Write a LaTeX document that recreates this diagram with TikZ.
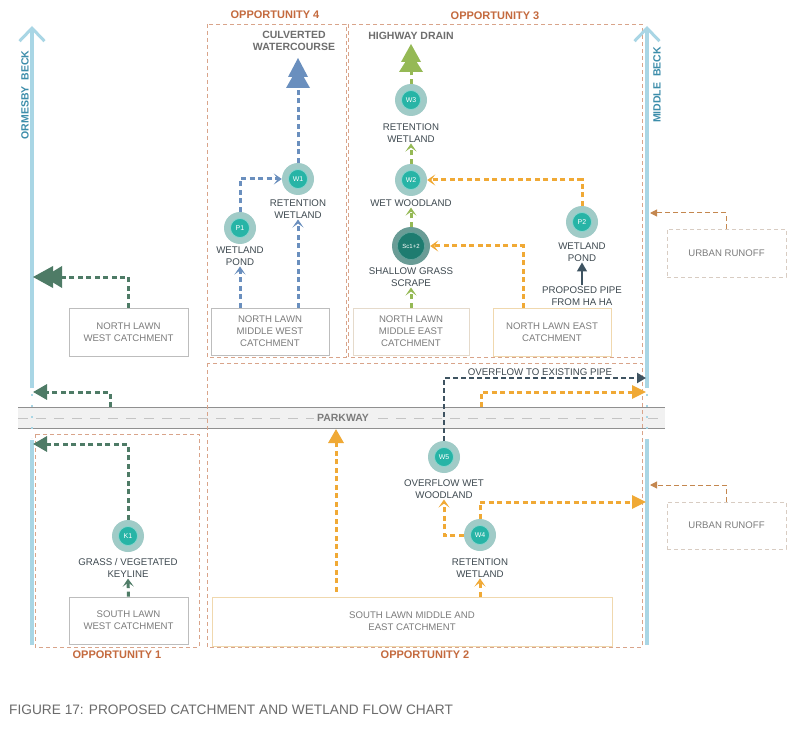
\documentclass[tikz,border=0pt]{standalone}
\usepackage{fontspec}
\setmainfont{Liberation Sans}
\usetikzlibrary{arrows.meta}
\definecolor{beckc}{HTML}{A9D6E5}
\definecolor{becktxt}{HTML}{3C8DAA}
\definecolor{oppc}{HTML}{C46A3E}
\definecolor{opplc}{HTML}{D9A48A}
\definecolor{dgreen}{HTML}{4E7B66}
\definecolor{wblue}{HTML}{6A8FBE}
\definecolor{lgreen}{HTML}{95B955}
\definecolor{orng}{HTML}{F0A935}
\definecolor{slate}{HTML}{3E5361}
\definecolor{brn}{HTML}{C4874F}
\definecolor{ringc}{HTML}{A0CBC7}
\definecolor{corec}{HTML}{27B4A6}
\definecolor{scring}{HTML}{6A9C96}
\definecolor{sccore}{HTML}{1E7C70}
\definecolor{lblc}{HTML}{3F4A51}
\definecolor{boxtxt}{HTML}{7C7C7C}
\definecolor{gboxc}{HTML}{BDBDBD}
\definecolor{oboxc}{HTML}{F0D8AE}
\definecolor{eboxc}{HTML}{E5DACB}
\definecolor{uboxc}{HTML}{D8CCC2}
\definecolor{headc}{HTML}{6E6E6E}
\definecolor{pkfill}{HTML}{F1F1F1}
\definecolor{pkline}{HTML}{909090}
\definecolor{pkdash}{HTML}{C4C4C4}
\definecolor{capc}{HTML}{6B6B6B}
\begin{document}
\begin{tikzpicture}[x=1pt,y=-1pt,
  lbl/.style={font=\fontsize{9.7}{11.8}\selectfont, text=lblc, align=center, inner sep=1pt},
  cbox/.style={draw=gboxc, line width=0.7pt, font=\fontsize{9.6}{12}\selectfont, text=boxtxt, align=center, inner sep=0pt},
  obox/.style={cbox, draw=oboxc},
  ebox/.style={cbox, draw=eboxc},
  ubox/.style={cbox, draw=uboxc, dash pattern=on 4pt off 3pt},
  opp/.style={draw=opplc, line width=0.8pt, dash pattern=on 4pt off 3pt},
  opptxt/.style={font=\bfseries\fontsize{11}{13}\selectfont, text=oppc, inner sep=0pt},
  headtxt/.style={font=\bfseries\fontsize{10.5}{12}\selectfont, text=headc, align=center, inner sep=0pt},
  becktext/.style={font=\bfseries\fontsize{10.5}{12}\selectfont, text=becktxt, rotate=90, inner sep=0pt},
  beck/.style={draw=beckc, line width=3.5pt},
  flow/.style={line width=3pt, dash pattern=on 5pt off 3.5pt},
  thinflow/.style={line width=2.2pt, dash pattern=on 5pt off 3pt},
  urbflow/.style={draw=brn, line width=1pt, dash pattern=on 5pt off 3pt, -{Triangle[length=7pt,width=7pt]}},
  chev/.style={-{Stealth[length=8pt,width=11pt,inset=4pt]}},
  tri/.style={-{Triangle[length=14pt,width=15pt]}},
  bigtri/.style={-{Triangle[length=14pt,width=13pt]}},
  smtri/.style={-{Triangle[length=9pt,width=10pt]}},
  ring/.style={circle, fill=ringc, minimum size=32pt, inner sep=0pt},
  core/.style={circle, fill=corec, draw=corec!55!white, line width=0.7pt, minimum size=19pt, inner sep=0pt, text=white, font=\fontsize{7}{8}\selectfont},
]
\fill[white] (0,0) rectangle (790,730);
\useasboundingbox (0,0) rectangle (790,730);

% parkway
\fill[pkfill] (18,407) rectangle (665,428);
\draw[pkline, line width=0.8pt] (18,407) -- (665,407) (18,428) -- (665,428);
\draw[pkdash, line width=1pt, dash pattern=on 10pt off 8pt] (18,418) -- (665,418);
\node[font=\bfseries\fontsize{10.5}{12}\selectfont, text=headc!90!white, fill=pkfill, inner sep=3pt] (pk) at (343,418) {PARKWAY};

% opportunity boxes
\draw[opp] (207,24) rectangle (346,357);
\draw[opp] (348,24) rectangle (642,357);
\draw[opp] (207,363) rectangle (642,647);
\draw[opp] (35,434) rectangle (199,647);
\node[opptxt] (o4) at (275,15) {OPPORTUNITY 4};
\node[opptxt] (o3) at (495,16) {OPPORTUNITY 3};
\node[opptxt] (o2) at (425,655) {OPPORTUNITY 2};
\node[opptxt] (o1) at (117,655) {OPPORTUNITY 1};

% becks
\draw[beck, -{Straight Barb[length=13pt,width=25pt,line width=3pt]}] (32,388) -- (32,26);
\draw[beck] (32,440) -- (32,645);
\draw[beckc, line width=2pt, dash pattern=on 2pt off 9pt] (32,394) -- (32,438);
\draw[beck, -{Straight Barb[length=13pt,width=25pt,line width=3pt]}] (647,388) -- (647,26);
\draw[beck] (647,439) -- (647,645);
\draw[beckc, line width=2pt, dash pattern=on 2pt off 9pt] (647,394) -- (647,437);
\node[becktext] (obl) at (25,95) {ORMESBY~~BECK};
\node[becktext] (mbl) at (657,85) {MIDDLE~~BECK};

% catchment boxes
\node[cbox, minimum width=119pt, minimum height=48pt] (NLW) at (128.5,332) {NORTH LAWN\\WEST CATCHMENT};
\node[cbox, minimum width=118pt, minimum height=47pt] (NLMW) at (270,331.5) {NORTH LAWN\\MIDDLE WEST\\CATCHMENT};
\node[ebox, minimum width=116pt, minimum height=47pt] (NLME) at (411,331.5) {NORTH LAWN\\MIDDLE EAST\\CATCHMENT};
\node[obox, minimum width=118pt, minimum height=48pt] (NLE) at (552,332) {NORTH LAWN EAST\\CATCHMENT};
\node[cbox, minimum width=119pt, minimum height=47pt] (SLW) at (128.5,620.5) {SOUTH LAWN\\WEST CATCHMENT};
\node[obox, minimum width=400pt, minimum height=49pt] (SLME) at (412,621.5) {SOUTH LAWN MIDDLE AND\\EAST CATCHMENT};
\node[ubox, minimum width=119pt, minimum height=48pt] (UR1) at (726.5,253) {URBAN RUNOFF};
\node[ubox, minimum width=119pt, minimum height=47pt] (UR2) at (726.5,525.5) {URBAN RUNOFF};

% circles
\node[ring] (K1) at (128,536) {}; \node[core] (K1c) at (K1) {K1};
\node[ring] (W1) at (298,179) {}; \node[core] (W1c) at (W1) {W1};
\node[ring] (P1) at (240,228) {}; \node[core] (P1c) at (P1) {P1};
\node[ring] (W3) at (411,100) {}; \node[core] (W3c) at (W3) {W3};
\node[ring] (W2) at (411,180) {}; \node[core] (W2c) at (W2) {W2};
\node[ring, fill=scring, minimum size=38pt] (SC) at (411,246) {};
\node[core, fill=sccore, draw=sccore!70!white, minimum size=27pt, font=\fontsize{6}{7}\selectfont] (SCc) at (SC) {Sc1+2};
\node[ring] (P2) at (582,222) {}; \node[core] (P2c) at (P2) {P2};
\node[ring] (W5) at (444,457) {}; \node[core] (W5c) at (W5) {W5};
\node[ring] (W4) at (480,535) {}; \node[core] (W4c) at (W4) {W4};

% labels
\node[lbl] (K1l) at (128,568) {GRASS / VEGETATED\\KEYLINE};
\node[lbl] (W1l) at (298,209) {RETENTION\\WETLAND};
\node[lbl] (P1l) at (240,256) {WETLAND\\POND};
\node[lbl] (W3l) at (411,133) {RETENTION\\WETLAND};
\node[lbl] (W2l) at (411,203) {WET WOODLAND};
\node[lbl] (SCl) at (411,277) {SHALLOW GRASS\\SCRAPE};
\node[lbl] (P2l) at (582,252) {WETLAND\\POND};
\node[lbl] (pipe) at (582,296) {PROPOSED PIPE\\FROM HA HA};
\node[lbl] (W5l) at (444,489) {OVERFLOW WET\\WOODLAND};
\node[lbl] (W4l) at (480,568) {RETENTION\\WETLAND};
\node[lbl] (ovl) at (540,372) {OVERFLOW TO EXISTING PIPE};
\node[headtxt] (cw) at (294,41) {CULVERTED\\WATERCOURSE};
\node[headtxt] (hd) at (411,36) {HIGHWAY DRAIN};

% coordinates
\coordinate (obA) at (60,277);
\coordinate (obB) at (33,392);
\coordinate (obC) at (33,444);
\coordinate (pkN1) at (110,407);
\coordinate (pkN2) at (481,407);
\coordinate (pkS1) at (336,429);
\coordinate (mbA) at (646,378);
\coordinate (mbB) at (646,392);
\coordinate (mbC) at (646,502);
\coordinate (mbD) at (650,485);
\coordinate (mbE) at (650,213);
\coordinate (cwT) at (298,87);
\coordinate (hdT) at (411,71);

% trees (double-triangle heads)
\fill[dgreen] (33,277) -- (53,266) -- (53,288) -- cycle;
\fill[dgreen] (44,277) -- (62,266) -- (62,288) -- cycle;
\fill[wblue] (298,58) -- (308,77) -- (288,77) -- cycle;
\fill[wblue] (298,67) -- (310,88) -- (286,88) -- cycle;
\fill[lgreen] (411,44) -- (421,62) -- (401,62) -- cycle;
\fill[lgreen] (411,53) -- (423,72) -- (399,72) -- cycle;

% connectors west
\draw[flow, dgreen] (NLW.north) |- (obA);
\draw[flow, dgreen, tri] (pkN1) |- (obB);
\draw[flow, dgreen, tri] (K1.north) |- (obC);
\draw[flow, dgreen, chev] (SLW.north) -- (K1l.south);

% opportunity 4
\draw[flow, wblue] (W1.north) -- (cwT);
\draw[flow, wblue, chev] (P1.north) |- (W1.west);
\draw[flow, wblue, chev] ([xshift=-30pt]NLMW.north) -- (P1l.south);
\draw[flow, wblue, chev] ([xshift=28pt]NLMW.north) -- (W1l.south);

% opportunity 3
\draw[flow, lgreen] (W3.north) -- (hdT);
\draw[flow, lgreen, chev] (W2.north) -- (W3l.south);
\draw[flow, lgreen, chev] (SC.north) -- (W2l.south);
\draw[flow, lgreen, chev] (NLME.north) -- (SCl.south);
\draw[flow, orng, chev] ([xshift=-29pt]NLE.north) |- (SC.east);
\draw[flow, orng, chev] (P2.north) |- (W2.east);
\draw[line width=1.5pt, slate, smtri] (pipe.north) -- (P2l.south);

% opportunity 2
\draw[thinflow, slate, smtri] (W5.north) |- (mbA);
\draw[flow, orng, bigtri] (pkN2) |- (mbB);
\draw[flow, orng, bigtri] (W4.north) |- (mbC);
\draw[flow, orng, chev] (W4.west) -| (W5l.south);
\draw[flow, orng, chev] ([xshift=68pt]SLME.north) -- (W4l.south);
\draw[flow, orng, tri] ([xshift=-76pt,yshift=5pt]SLME.north) -- (pkS1);

% urban runoff
\draw[urbflow] (UR1.north) |- (mbE);
\draw[urbflow] (UR2.north) |- (mbD);

% caption
\node[anchor=west, text=capc, font=\fontsize{13.7}{16}\selectfont, inner sep=0pt] (cap) at (9,710) {FIGURE 17: PROPOSED CATCHMENT AND WETLAND FLOW CHART};
\end{tikzpicture}
\end{document}
